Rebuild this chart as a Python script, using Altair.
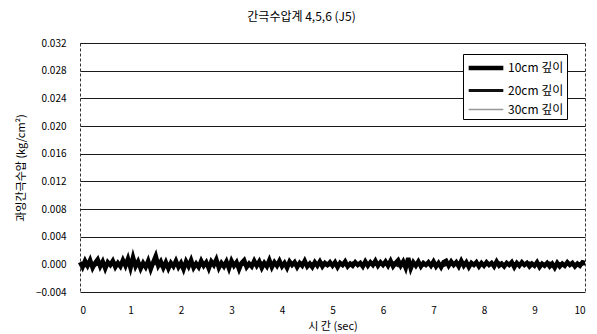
import altair as alt
import pandas as pd

series_names = ["10cm 깊이", "20cm 깊이", "30cm 깊이"]

# 10cm trace, sampled every 0.05 s, values in units of 1e-4 kg/cm2
v10 = [
    3, -4, 5, -2, 6, -5, 2, 7, -3, 4, -6, 3, -1, 5, -4, 2, -3, 6, -2, 8,
    -5, 10, -3, 4, -6, 2, -4, 5, -7, 3, 12, -2, 4, -5, 3, -6, 2, -3, 5, -4,
    2, -7, 4, -3, 6, -5, 1, -4, 5, -2, 3, -6, 4, -1, 7, -5, 2, -3, 4, -6,
    5, -2, 3, -7, 2, 6, -4, 1, -3, 5, -2, 4, -5, 2, -3, 6, -4, 3, -2, 5,
    -3, 2, -5, 4, -1, 3, -4, 2, -2, 5, -3, 1, -4, 3, -2, 4, -3, 2, -1, 3,
    -2, 3, -4, 2, -1, 4, -3, 1, -2, 3, -1, 2, -3, 4, -2, 3, -1, 5, -2, 3,
    -1, 4, -2, 5, -3, 2, 6, -2, 4, -5, 9, -6, 3, -2, 4, -3, 2, -1, 3, -2,
    4, -3, 2, -4, 3, 5, -2, 4, -1, 3, -3, 5, -2, 3, -4, 2, -1, 3, -3, 2,
    -2, 3, -1, 2, -3, 4, -2, 1, -3, 2, -1, 3, -4, 2, -2, 3, -1, 2, -3, 1,
    -2, 3, -4, 1, -2, 2, -3, 1, -5, 2, -3, 1, -2, 3, -1, 2, -3, 1, -2, 3,
    2,
]
# 20cm and 30cm traces, sampled every 0.1 s, units of 1e-4 kg/cm2
v20 = [
    1, -2, 2, -1, 1, -2, 1, 2, -1, 1, -2, 2, -1, 1, -1, 2, -2, 1, -1, 2,
    -1, 1, -2, 1, -1, 2, -1, 1, -2, 1, 2, -1, 1, -2, 1, -1, 2, -1, 1, -1,
    1, -2, 1, -1, 2, -1, 1, -1, 2, -2, 1, -1, 1, -2, 2, -1, 1, -1, 2, -1,
    1, -1, 2, -2, 1, 2, -1, 1, -1, 2, -1, 1, -2, 1, -1, 2, -1, 1, -1, 1,
    -2, 1, -1, 2, -1, 1, -2, 1, -1, 2, -1, 1, -1, 2, -2, 1, -1, 1, -2, 1,
    1,
]
v30 = [
    -1, 1, -1, 2, -1, 1, -2, 1, 1, -1, 1, -1, 2, -1, 1, -1, 1, -2, 1, -1,
    1, -1, 2, -1, 1, -1, 1, -2, 1, -1, 1, 1, -1, 1, -2, 1, -1, 1, -1, 2,
    -1, 1, -1, 1, -2, 1, -1, 2, -1, 1, -1, 1, -1, 2, -1, 1, -2, 1, -1, 1,
    -1, 2, -1, 1, -1, 1, 2, -1, 1, -2, 1, -1, 1, -1, 2, -1, 1, -1, 1, -2,
    1, -1, 1, -1, 2, -1, 1, -1, 1, -2, 1, -1, 2, -1, 1, -1, 1, -1, 2, -1,
    -1,
]

y_ticks = [-0.004, 0.0, 0.004, 0.008, 0.012, 0.016, 0.020, 0.024, 0.028, 0.032]
x_ticks = [0, 1, 2, 3, 4, 5, 6, 7, 8, 9, 10]

rows = []
for i, v in enumerate(v30):
    rows.append({"t": round(i * 0.1, 3), "p": v * 1e-4, "s": series_names[2], "o": 0})
for i, v in enumerate(v20):
    rows.append({"t": round(i * 0.1, 3), "p": v * 1e-4, "s": series_names[1], "o": 1})
for i, v in enumerate(v10):
    rows.append({"t": round(i * 0.05, 3), "p": v * 1e-4, "s": series_names[0], "o": 2})
df = pd.DataFrame(rows)

FONT = "Noto Sans CJK KR"

def make_legend():
    return alt.Legend(orient="none", legendX=383, legendY=11,
                      symbolType="M-2,0H2", symbolSize=300, symbolOffset=9,
                      strokeColor="#000000", fillColor="#ffffff",
                      padding=3, rowPadding=3, labelFontSize=12,
                      labelFont=FONT, labelColor="#000", labelOffset=11)

chart = alt.Chart(df).mark_line(interpolate="linear").encode(
    x=alt.X("t:Q", title="시 간 (sec)",
            scale=alt.Scale(domain=[0, 10], nice=False),
            axis=alt.Axis(values=x_ticks, format="d", grid=False, ticks=False,
                          labelPadding=13, titlePadding=5, domain=False)),
    y=alt.Y("p:Q", title="과잉간극수압 (kg/cm²)",
            scale=alt.Scale(domain=[-0.004, 0.032], nice=False, zero=False),
            axis=alt.Axis(values=y_ticks, format=".3f", ticks=False,
                          labelPadding=14, titlePadding=9, domain=False,
                          gridColor="#1a1a1a", gridWidth=1)),
    color=alt.Color("s:N", title=None,
                    scale=alt.Scale(domain=series_names, range=["#000000", "#111111", "#999999"]),
                    legend=make_legend()),
    strokeWidth=alt.StrokeWidth("s:N", title=None,
                                scale=alt.Scale(domain=series_names, range=[4.5, 1.6, 1.0]),
                                legend=make_legend()),
    detail="s:N",
    order="o:Q",
).properties(
    width=505, height=249,
    title=alt.TitleParams("간극수압계 4,5,6 (J5)", fontSize=12, fontWeight="normal",
                          font=FONT, dx=-31, offset=14, color="#000"),
    padding={"left": 72, "top": 35, "right": 4, "bottom": 42},
    autosize="none",
).configure_view(
    stroke="#333333", strokeDash=[3, 2], strokeWidth=1
).configure_axis(
    labelFont=FONT, titleFont=FONT, labelFontSize=10, titleFontSize=11,
    labelColor="#000", titleColor="#000", titleFontWeight="normal"
)

chart.save("out.html", embed_options={"renderer": "svg", "actions": False})
